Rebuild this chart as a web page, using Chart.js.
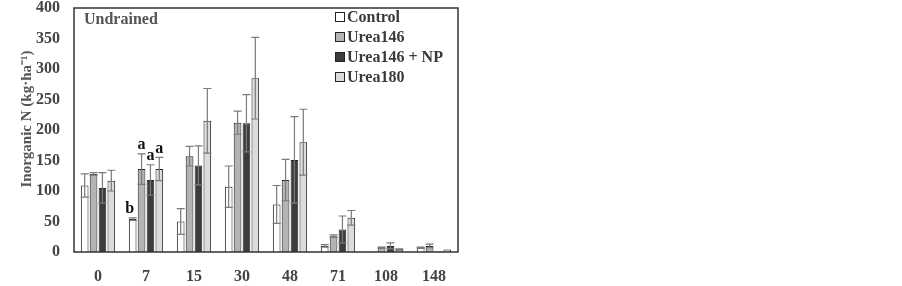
<!DOCTYPE html>
<html><head><meta charset="utf-8">
<script src="https://cdn.jsdelivr.net/npm/chart.js@4.4.1/dist/chart.umd.min.js"></script>
<style>html,body{margin:0;padding:0;background:#fff}#wrap{width:902px;height:286px;position:relative}</style>
</head><body><div id="wrap"><canvas id="c" width="902" height="286"></canvas></div>
<script>
const categories = ['0','7','15','30','48','71','108','148'];
const seriesNames = ['Control','Urea146','Urea146 + NP','Urea180'];
const control   = [109, 54, 50, 107, 78, 10, 1, 7];
const urea146   = [128, 136, 157, 212, 118, 26, 7, 10];
const urea146NP = [105, 118, 142, 211, 151, 37, 10, 1];
const urea180   = [117, 136, 215, 285, 180, 56, 4, 4];
const errControl   = [19, 2, 21, 34, 31, 2, 0, 1];
const errUrea146   = [2, 25, 16, 19, 34, 2, 1, 3];
const errUrea146NP = [25, 25, 32, 47, 71, 22, 5, 0];
const errUrea180   = [17, 19, 53, 67, 54, 12, 1, 0];
const yTicks = [0, 50, 100, 150, 200, 250, 300, 350, 400];
const letters = [{cat:1, series:0, text:'b'},{cat:1, series:1, text:'a'},{cat:1, series:2, text:'a'},{cat:1, series:3, text:'a'}];

const fills = ['#ffffff','#b4b4b4','#3c3c3c','#dcdcdc'];
const values = [control, urea146, urea146NP, urea180];
const errs = [errControl, errUrea146, errUrea146NP, errUrea180];
const FONT = "'Liberation Serif', 'Times New Roman', serif";

const errPlugin = {
  id:'errbars',
  afterDatasetsDraw(chart){
    const ctx = chart.ctx, y = chart.scales.y;
    ctx.save();
    chart.data.datasets.forEach((ds, di) => {
      const meta = chart.getDatasetMeta(di);
      meta.data.forEach((bar, i) => {
        const e = errs[di][i]; if (!e) return;
        const v = ds.data[i];
        const yt = y.getPixelForValue(v + e), yb = y.getPixelForValue(v - e);
        ctx.strokeStyle = '#7a7a7a'; ctx.lineWidth = 1.2;
        ctx.beginPath();
        ctx.moveTo(bar.x, yt); ctx.lineTo(bar.x, yb);
        ctx.moveTo(bar.x-4, yt); ctx.lineTo(bar.x+4, yt);
        ctx.moveTo(bar.x-4, yb); ctx.lineTo(bar.x+4, yb);
        ctx.stroke();
      });
    });
    // letters
    ctx.fillStyle = '#111'; ctx.font = "bold 16px " + FONT; ctx.textAlign='center'; ctx.textBaseline='bottom';
    letters.forEach(l => {
      const bar = chart.getDatasetMeta(l.series).data[l.cat];
      const v = values[l.series][l.cat] + errs[l.series][l.cat];
      ctx.fillText(l.text, bar.x - (l.series===0?3:0), y.getPixelForValue(v) - 1);
    });
    // box
    const a = chart.chartArea;
    ctx.strokeStyle = '#333'; ctx.lineWidth = 1.5;
    ctx.strokeRect(a.left, a.top, a.right - a.left, a.bottom - a.top);
    // panel title
    ctx.fillStyle = '#555'; ctx.font = "bold 16px " + FONT; ctx.textAlign='left'; ctx.textBaseline='middle';
    ctx.fillText('Undrained', a.left + 10, a.top + 12);
    // legend
    ctx.font = "bold 16px " + FONT;
    seriesNames.forEach((n, i) => {
      const yy = a.top + 9 + i*20;
      const xx = 335;
      ctx.fillStyle = fills[i]; ctx.fillRect(xx, yy-5, 10, 10);
      ctx.strokeStyle = '#222'; ctx.lineWidth = 1; ctx.strokeRect(xx+0.5, yy-4.5, 9, 9);
      ctx.fillStyle = '#3a3a3a'; ctx.fillText(n, xx + 12, yy + 1);
    });
    // y title
    ctx.save();
    ctx.translate(27, (a.top + a.bottom)/2 - 11);
    ctx.rotate(-Math.PI/2);
    ctx.textAlign = 'center'; ctx.fillStyle = '#555'; ctx.font = "bold 15px " + FONT;
    ctx.fillText('Inorganic N (kg·ha⁻¹)', 0, 0);
    ctx.restore();
    ctx.restore();
  }
};

new Chart(document.getElementById('c'), {
  type:'bar',
  data:{ labels: categories, datasets: seriesNames.map((n,i)=>({label:n, data:values[i], backgroundColor:fills[i], borderColor:'#222', borderWidth:1, categoryPercentage:0.74, barPercentage:0.86})) },
  options:{
    responsive:false, animation:false,
    layout:{autoPadding:false, padding:{left:0, right:444, top:8, bottom:0}},
    plugins:{legend:{display:false}, tooltip:{enabled:false}},
    scales:{
      x:{ grid:{display:false, drawTicks:false}, border:{display:false},
          ticks:{color:'#444', font:{family:FONT, size:16, weight:'bold'}, padding:15},
          afterFit(s){ s.height = 34; s.paddingLeft = 0; s.paddingRight = 0; } },
      y:{ min:0, max:400, grid:{display:false, drawTicks:false}, border:{display:false},
          afterBuildTicks(s){ s.ticks = yTicks.map(v=>({value:v})); },
          ticks:{color:'#444', font:{family:FONT, size:16, weight:'bold'}, padding:14},
          afterFit(s){ s.width = 74; s.paddingTop = 0; s.paddingBottom = 0; } }
    }
  },
  plugins:[errPlugin]
});
</script></body></html>
